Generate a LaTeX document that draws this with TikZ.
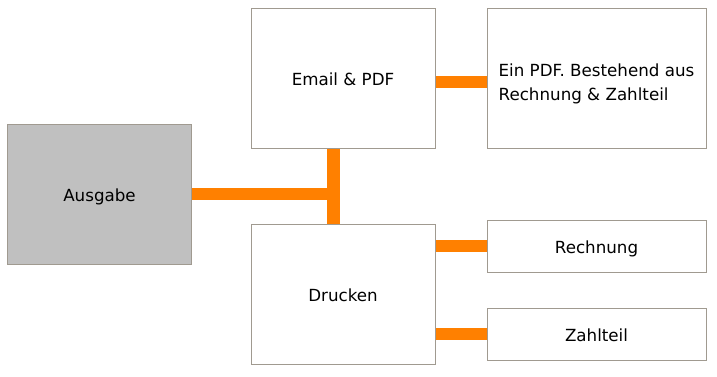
\documentclass[tikz,border=0pt]{standalone}
\usepackage{fontspec}
\setmainfont{DejaVu Sans}
\usetikzlibrary{backgrounds}
\definecolor{barorange}{HTML}{FF8000}
\definecolor{boxline}{HTML}{A09A90}
\definecolor{boxgray}{HTML}{C0C0C0}
\begin{document}
\begin{tikzpicture}[x=1pt,y=-1pt,
  box/.style={draw=boxline,line width=1pt,fill=white,inner sep=0pt,outer sep=0pt,
    font=\fontsize{16.7}{24}\selectfont},
  oneline/.style={box,text height=16pt,text depth=1.8pt},
  bar/.style={draw=barorange,line width=12.5pt,line cap=butt}]
\useasboundingbox (0,0) rectangle (717,376);
\node[oneline,fill=boxgray,minimum width=184pt,minimum height=140pt] (aus) at (99.5,194) {Ausgabe};
\node[oneline,minimum width=184pt,minimum height=140pt] (email) at (343,78) {Email \& PDF};
\node[oneline,minimum width=184pt,minimum height=140pt] (druck) at (343,294) {Drucken};
\node[box,align=left,minimum width=219pt,minimum height=140pt] (pdf) at (596.5,78) {\rule{0pt}{25pt}Ein PDF. Bestehend aus\\Rechnung \& Zahlteil};
\node[oneline,minimum width=219pt,minimum height=52pt] (rech) at (596.5,246) {Rechnung};
\node[oneline,minimum width=219pt,minimum height=52pt] (zahl) at (596.5,334) {Zahlteil};
\coordinate (j) at (333.5,194);
\begin{scope}[on background layer]
\draw[bar] (aus.east) -- (j);
\draw[bar] (email.south -| j) -- (druck.north -| j);
\draw[bar] ([yshift=-4pt]email.east) -- ([yshift=-4pt]pdf.west);
\draw[bar] (druck.east |- rech) -- (rech.west);
\draw[bar] (druck.east |- zahl) -- (zahl.west);
\end{scope}
\end{tikzpicture}
\end{document}
